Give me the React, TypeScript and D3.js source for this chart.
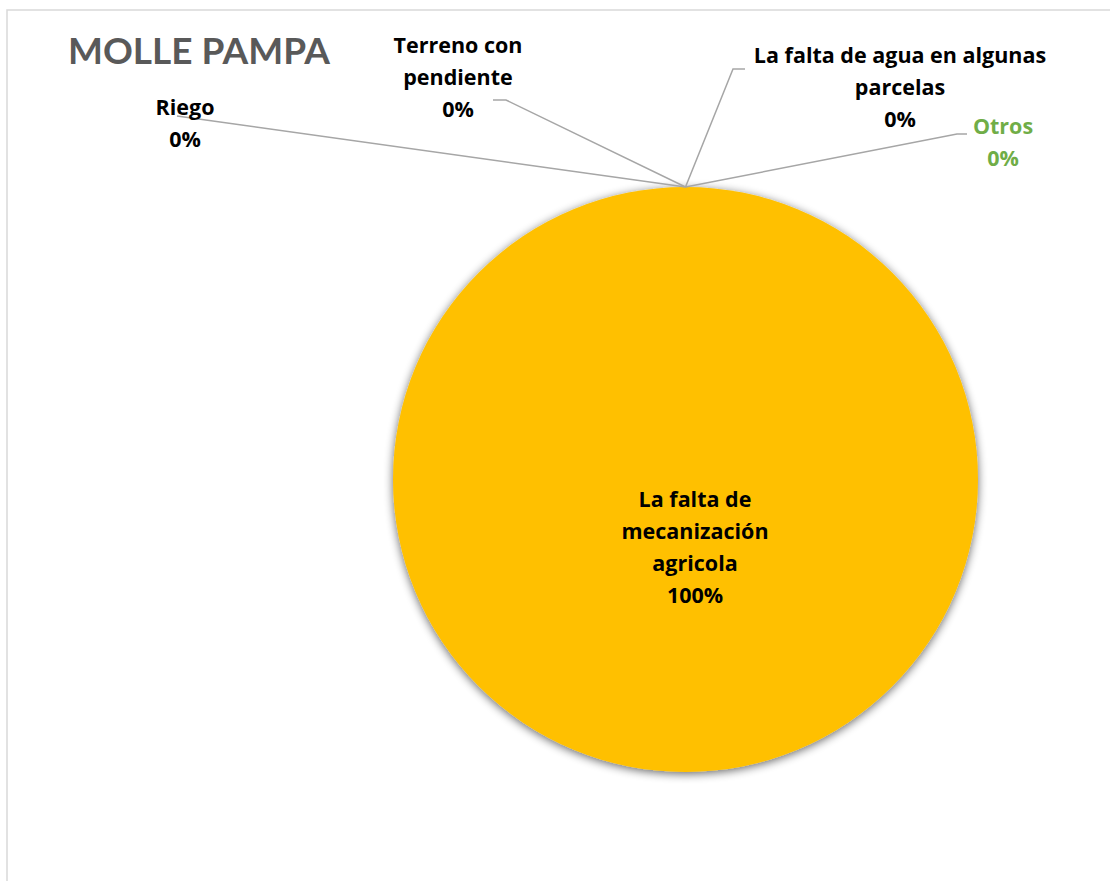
import React from "react";
import * as d3 from "d3";

const title = "MOLLE PAMPA";
const categories = [
  "Riego",
  "Terreno con pendiente",
  "La falta de mecanización agricola",
  "La falta de agua en algunas parcelas",
  "Otros",
];
const values = [0, 0, 100, 0, 0];
const labelLines = [
  ["Riego"],
  ["Terreno con", "pendiente"],
  ["La falta de", "mecanización", "agricola"],
  ["La falta de agua en algunas", "parcelas"],
  ["Otros"],
];
const sliceColors = ["#4472C4", "#ED7D31", "#FFC000", "#A5A5A5", "#5B9BD5"];
const labelColors = ["#000", "#000", "#000", "#000", "#70AD47"];

// layout (positions of label boxes, first baseline) – styles, not data
const labelLayout = [
  { x: 185, y: 115, line: [[177, 116]] },
  { x: 458, y: 53, line: [[493, 100], [506, 100]] },
  { x: 695, y: 507, line: null },
  { x: 900, y: 63, line: [[745, 69], [733, 69]] },
  { x: 1003, y: 134, line: [[967, 134], [957, 134]] },
];

const W = 1110;
const H = 881;
const cx = 685.5;
const cy = 479.5;
const R = 292.5;

export default function App() {
  const pie = d3.pie<number>().sort(null).value((d) => d);
  const arcs = pie(values);
  const arc = d3.arc<d3.PieArcDatum<number>>().innerRadius(0).outerRadius(R);
  const total = d3.sum(values);
  const fmt = (v: number) => `${Math.round((v / total) * 100)}%`;
  const lineH = 32;
  const font = "'Open Sans', Lato, sans-serif";

  return (
    <svg
      width={W}
      height={H}
      style={{ position: "absolute", left: 0, top: 0, background: "#fff" }}
    >
      <defs>
        <filter id="shadow" x="-20%" y="-20%" width="140%" height="140%">
          <feGaussianBlur in="SourceAlpha" stdDeviation="5" />
          <feOffset dx="0" dy="2" result="b" />
          <feComponentTransfer>
            <feFuncA type="linear" slope="0.6" />
          </feComponentTransfer>
          <feMerge>
            <feMergeNode />
            <feMergeNode in="SourceGraphic" />
          </feMerge>
        </filter>
      </defs>
      <rect x={7} y={10} width={W + 10} height={H + 10} fill="#fff" stroke="#d9d9d9" strokeWidth={1.5} />
      <text x={68} y={64} fontFamily="Lato, sans-serif" fontWeight={700} fontSize={37} fill="#595959">
        {title}
      </text>
      <g transform={`translate(${cx},${cy})`} filter="url(#shadow)">
        {arcs.map((a, i) =>
          a.endAngle - a.startAngle > 0 ? (
            <path key={categories[i]} d={arc(a) || ""} fill={sliceColors[i]} />
          ) : null
        )}
      </g>
      {arcs.map((a, i) => {
        const L = labelLayout[i];
        if (!L.line) return null;
        const ang = a.startAngle;
        const px = cx + R * Math.sin(ang);
        const py = cy - R * Math.cos(ang);
        const pts = [...L.line, [px, py]];
        return (
          <path
            key={"l" + i}
            d={d3.line()(pts as [number, number][]) || ""}
            fill="none"
            stroke="#a6a6a6"
            strokeWidth={1.5}
          />
        );
      })}
      {arcs.map((a, i) => {
        const L = labelLayout[i];
        const lines = [...labelLines[i], fmt(values[i])];
        return (
          <text
            key={"t" + i}
            x={L.x}
            y={L.y}
            textAnchor="middle"
            fontFamily={font}
            fontWeight={700}
            fontSize={21.5}
            fill={labelColors[i]}
          >
            {lines.map((s, j) => (
              <tspan key={j} x={L.x} y={L.y + j * lineH}>
                {s}
              </tspan>
            ))}
          </text>
        );
      })}
    </svg>
  );
}
